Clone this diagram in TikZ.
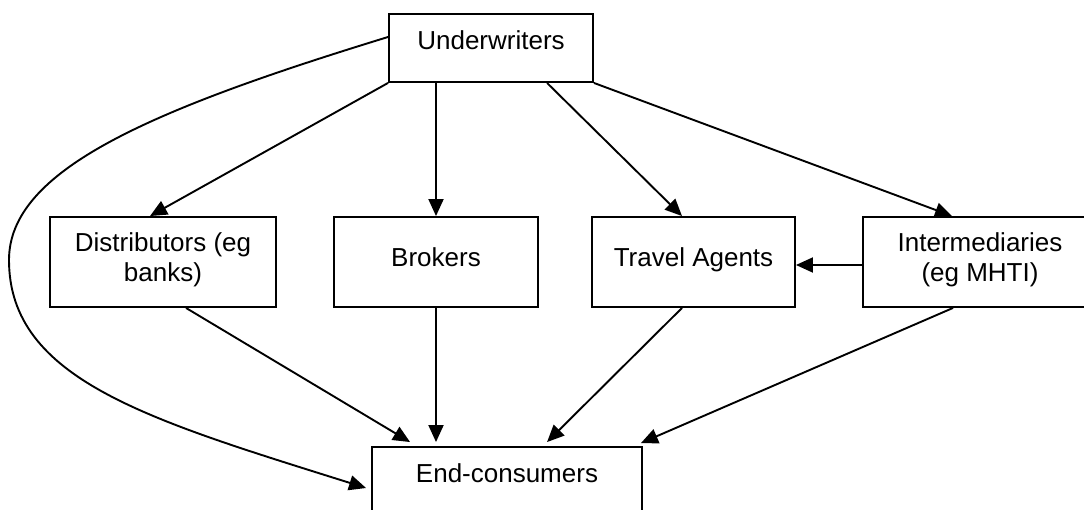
\documentclass[tikz,border=0pt]{standalone}
\usepackage{fontspec}
\setmainfont{Liberation Sans}
\usetikzlibrary{arrows.meta,calc}
\setlength{\tabcolsep}{0pt}
\newcommand{\onetext}[3]{\raisebox{0pt}[#1pt][#2pt]{#3}}
\newcommand{\twotext}[2]{\raisebox{0pt}[40pt][0pt]{\begin{tabular}[b]{c}#1\\#2\end{tabular}}}
\begin{document}
\begin{tikzpicture}[x=1pt,y=-1pt,
  box/.style={draw=black,line width=1.9pt,rectangle,inner sep=0pt,
    font=\fontsize{26}{30}\selectfont},
  conn/.style={draw=black,line width=1.9pt,-{Triangle[length=17pt,width=15pt]}}]
\useasboundingbox (0,0) rectangle (1084,510);
\node[box,minimum width=204pt,minimum height=68pt] (uw) at (491,48) {\onetext{20}{16}{Underwriters}};
\node[box,minimum width=226pt,minimum height=90pt] (dist) at (163,262) {\twotext{Distributors (eg}{banks)}};
\node[box,minimum width=204pt,minimum height=90pt] (brok) at (436,262) {\onetext{20}{10}{Brokers}};
\node[box,minimum width=203pt,minimum height=90pt] (trav) at (693.5,262) {\onetext{20}{10}{Travel Agents}};
\node[box,minimum width=234pt,minimum height=90pt] (inter) at (980,262) {\twotext{Intermediaries}{(eg MHTI)}};
\node[box,minimum width=270pt,minimum height=68pt] (ec) at (507,481) {\onetext{20}{18}{End-consumers}};
% from underwriters
\draw[conn] ($(uw.west)+(0,-11)$) .. controls (150,110) and (9,170) .. (9,260)
  .. controls (9,380) and (150,420) .. ($(ec.west)+(-5,7)$);
\draw[conn] (uw.south west) -- ($(dist.north)+(-13,0)$);
\draw[conn] (brok.north |- uw.south) -- (brok.north);
\draw[conn] ($(uw.south west)+(159,0)$) -- ($(trav.north)+(-11.5,0)$);
\draw[conn] (uw.south east) -- ($(inter.north)+(-28,0)$);
% intermediaries to travel agents
\draw[conn] ($(inter.west)+(0,3)$) -- ($(trav.east)+(0,3)$);
% to end-consumers
\draw[conn] ($(dist.south)+(23,0)$) -- ($(ec.north west)+(39,-4)$);
\draw[conn] (brok.south) -- ($(brok.south |- ec.north)+(0,-4)$);
\draw[conn] ($(trav.south)+(-11.5,0)$) -- ($(ec.north west)+(176,-4)$);
\draw[conn] ($(inter.south)+(-27,0)$) -- ($(ec.north east)+(-2,-3)$);
\end{tikzpicture}
\end{document}
